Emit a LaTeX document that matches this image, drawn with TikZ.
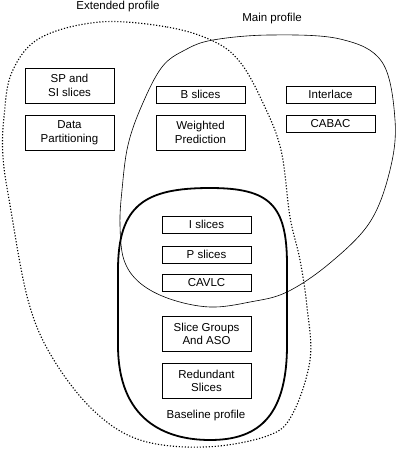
\documentclass[tikz,border=0pt]{standalone}
\usepackage{fontspec}
\setmainfont{Liberation Sans}
\begin{document}
\begin{tikzpicture}[x=1pt,y=-1pt,
  feat/.style={draw,line width=0.8pt,fill=white,minimum width=89pt,inner sep=0pt,align=center,font=\fontsize{11.5}{13.5}\selectfont},
  lone/.style={feat,minimum height=17pt},
  ltwo/.style={feat,minimum height=35pt},
  lbl/.style={inner sep=0pt,font=\fontsize{11.5}{13.5}\selectfont},
  extprof/.style={line width=1.1pt,dash pattern=on 1.2pt off 1.8pt},
  mainprof/.style={line width=0.6pt},
  baseprof/.style={line width=1.8pt}]
\useasboundingbox (0,0) rectangle (402,460);
% Extended profile (dotted)
\draw[extprof] plot[smooth cycle,tension=0.6] coordinates {
 (100,22) (167,27) (213,41) (240,62) (263,103) (281,150) (290,217) (300,260)
 (307,307) (310,360) (292,415) (267,436) (205,447) (140,440) (93,410) (52,357)
 (28,300) (10,205) (3,157) (4,117) (12,72) (40,38)};
% Main profile (thin)
\draw[mainprof] plot[smooth cycle,tension=0.6] coordinates {
 (213,40) (270,35) (340,39) (382,62) (395,120) (390,170) (370,222) (330,263)
 (287,292) (250,302) (210,307) (170,299) (140,283) (124,260) (120,225) (122,190)
 (128,145) (142,105) (162,67) (185,50)};
% Baseline profile (thick)
\draw[baseprof] (210,188) .. controls (145,188) and (118,205) .. (118,270)
  -- (118,345) .. controls (118,420) and (165,440) .. (210,440)
  .. controls (255,440) and (287,420) .. (287,345)
  -- (287,265) .. controls (287,205) and (270,188) .. (210,188) -- cycle;
% Labels
\node[lbl] (ext) at (118,7) {Extended profile};
\node[lbl] (mainl) at (272,19) {Main profile};
\node[lbl] (basel) at (206,416) {Baseline profile};
% Boxes
\node[ltwo] (sp) at (69.5,85.5) {SP and\\SI slices};
\node[ltwo] (dp) at (69.5,132.5) {Data\\Partitioning};
\node[lone] (bs) at (200.5,94.5) {B slices};
\node[ltwo] (wp) at (200.5,132.5) {Weighted\\Prediction};
\node[lone] (il) at (330.5,94.5) {Interlace};
\node[lone] (cabac) at (330.5,123.5) {CABAC};
\node[lone] (is) at (206.5,224.5) {I slices};
\node[lone] (ps) at (206.5,254.5) {P slices};
\node[lone] (cavlc) at (206.5,283) {CAVLC};
\node[ltwo] (sg) at (206.5,334) {Slice Groups\\And ASO};
\node[ltwo] (rs) at (206.5,381) {Redundant\\Slices};
\end{tikzpicture}
\end{document}
